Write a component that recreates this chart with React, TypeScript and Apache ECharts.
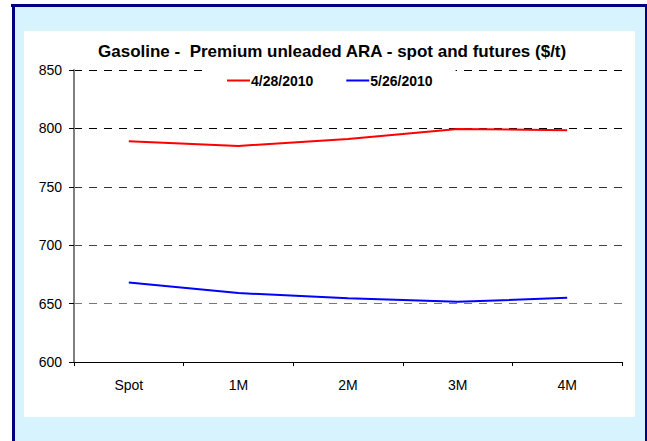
import React, { useEffect, useRef } from "react";
import * as echarts from "echarts";

const categories = ["Spot", "1M", "2M", "3M", "4M"];
const seriesNames = ["4/28/2010", "5/26/2010"];
const values0428 = [789, 785, 791, 799.5, 798.5];
const values0526 = [668, 659, 654.5, 651.5, 655];
const yMin = 600;
const yMax = 850;
const yStep = 50;
const titleText = "Gasoline -  Premium unleaded ARA - spot and futures ($/t)";

const FONT = "Arial, 'Liberation Sans', Helvetica, sans-serif";

export default function App() {
  const ref = useRef<HTMLDivElement>(null);
  useEffect(() => {
    if (!ref.current) return;
    const chart = echarts.init(ref.current, undefined, { renderer: "svg" });
    chart.setOption({
      animation: false,
      backgroundColor: "#ffffff",
      graphic: [
        { type: "rect", z: -10, silent: true, shape: { x: 12, y: 4, width: 635, height: 437 }, style: { fill: "#D7F4FE" } },
        { type: "rect", z: -9, silent: true, shape: { x: 11, y: 4, width: 636, height: 3 }, style: { fill: "#000080" } },
        { type: "rect", z: -9, silent: true, shape: { x: 12, y: 4, width: 3, height: 437 }, style: { fill: "#000080" } },
        { type: "rect", z: -9, silent: true, shape: { x: 645, y: 4, width: 2, height: 437 }, style: { fill: "#000080" } },
        { type: "rect", z: -9, silent: true, shape: { x: 24, y: 31, width: 611, height: 386 }, style: { fill: "#ffffff" } },
      ],
      title: {
        text: titleText,
        left: 98,
        top: 41,
        padding: 0,
        textStyle: { fontFamily: FONT, fontSize: 17, fontWeight: "bold", color: "#000", lineHeight: 20 },
      },
      legend: {
        left: 205,
        top: 66,
        padding: [6, 23, 5, 22],
        backgroundColor: "#ffffff",
        icon: "rect",
        itemWidth: 23,
        itemHeight: 2,
        itemGap: 33,
        data: seriesNames,
        textStyle: { fontFamily: FONT, fontSize: 14, fontWeight: "bold", color: "#000", padding: [0, 0, 0, -4], lineHeight: 17 },
      },
      grid: { left: 74, right: 25, top: 70, bottom: 79, containLabel: false },
      xAxis: {
        type: "category",
        data: categories,
        boundaryGap: true,
        axisLine: { show: true, lineStyle: { color: "#000", width: 1 } },
        axisTick: { show: true, length: 4, lineStyle: { color: "#000" } },
        axisLabel: { margin: 16, fontFamily: FONT, fontSize: 14, color: "#000" },
        splitLine: { show: false },
      },
      yAxis: {
        type: "value",
        min: yMin,
        max: yMax,
        interval: yStep,
        axisLine: { show: true, lineStyle: { color: "#808080", width: 2 } },
        axisTick: { show: true, length: 5, lineStyle: { color: "#000" } },
        axisLabel: { margin: 12, fontFamily: FONT, fontSize: 14, color: "#000" },
        splitLine: {
          show: true,
          lineStyle: { color: ["#000", "#777", "#444", "#333", "#000", "#000"], type: [8, 7], width: 1 },
        },
      },
      series: [
        {
          name: seriesNames[0],
          type: "line",
          data: values0428,
          symbol: "none",
          showSymbol: false,
          lineStyle: { color: "#FF0000", width: 2 },
          itemStyle: { color: "#FF0000" },
        },
        {
          name: seriesNames[1],
          type: "line",
          data: values0526,
          symbol: "none",
          showSymbol: false,
          lineStyle: { color: "#0000FF", width: 2 },
          itemStyle: { color: "#0000FF" },
        },
      ],
    });
    return () => chart.dispose();
  }, []);
  return (
    <div
      ref={ref}
      style={{ position: "absolute", left: 0, top: 0, width: 647, height: 441 }}
    />
  );
}
